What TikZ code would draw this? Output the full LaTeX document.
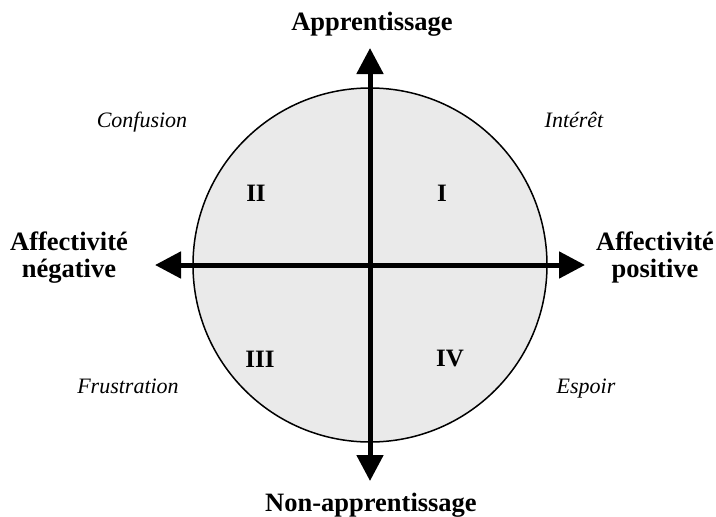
\documentclass[tikz,border=0pt]{standalone}
\usepackage{fontspec}
\setmainfont{Liberation Serif}
\usetikzlibrary{arrows.meta}
\tikzset{
  axis/.style={line width=5pt, {Triangle[length=26pt,width=26pt]}-{Triangle[length=26pt,width=26pt]}},
  bigbold/.style={font=\fontsize{26.5}{27}\selectfont\bfseries, align=center, inner sep=0pt},
  numeral/.style={font=\fontsize{25}{26}\selectfont\bfseries, inner sep=0pt},
  emot/.style={font=\fontsize{22}{23}\selectfont\itshape, inner sep=0pt},
}
\begin{document}
\begin{tikzpicture}[x=1pt,y=-1pt]
\useasboundingbox (0,0) rectangle (716,517);
\fill[white] (0,0) rectangle (716,517);
\node[circle, draw=black, line width=1.5pt, fill={rgb,255:red,234;green,234;blue,234}, minimum size=354pt, inner sep=0pt] (circ) at (370,265) {};
\coordinate (L) at (155,265);
\coordinate (R) at (585,265);
\coordinate (T) at (370,48);
\coordinate (B) at (370,481);
\draw[axis] (L) -- (R);
\draw[axis] (B) -- (T);
\node[bigbold, anchor=base] (app) at (372,30) {Apprentissage};
\node[bigbold, anchor=base] (napp) at (371,511) {Non-apprentissage};
\node[bigbold, anchor=base] (neg) at (69,277) {Affectivité\\négative};
\node[bigbold, anchor=base] (pos) at (655,277) {Affectivité\\positive};
\node[numeral] (q1) at (442,193) {I};
\node[numeral] (q2) at (256,193) {II};
\node[numeral] (q3) at (260,359) {III};
\node[numeral] (q4) at (450,359) {IV};
\node[emot, anchor=base] (conf) at (142,127) {Confusion};
\node[emot, anchor=base] (int) at (574,127) {Intérêt};
\node[emot, anchor=base] (fru) at (128,393) {Frustration};
\node[emot, anchor=base] (esp) at (586,393) {Espoir};
\end{tikzpicture}
\end{document}
